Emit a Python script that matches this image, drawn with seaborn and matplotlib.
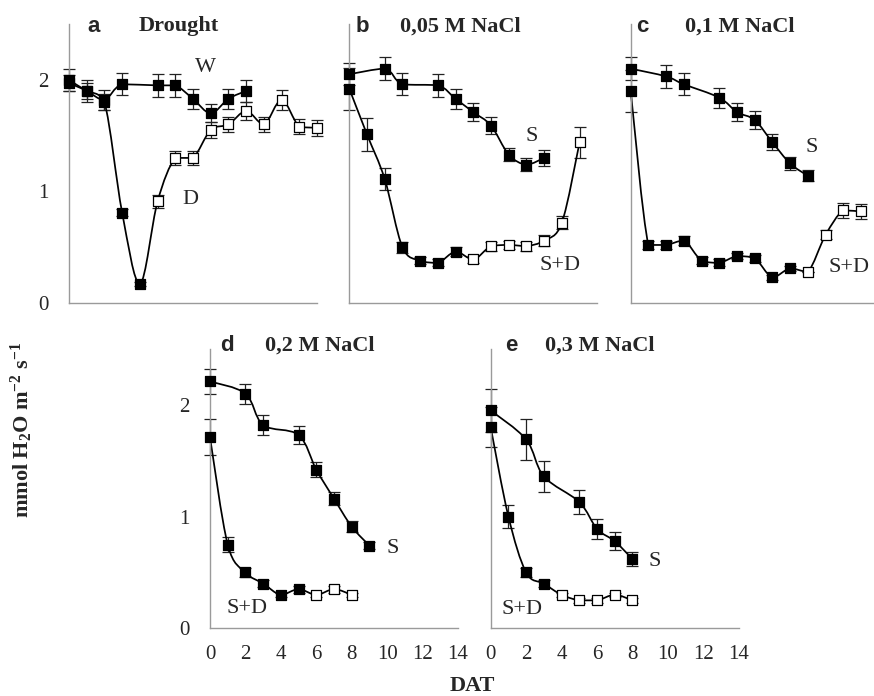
import numpy as np
import pandas as pd
import matplotlib
matplotlib.use("Agg")
import matplotlib.pyplot as plt
from matplotlib.path import Path
from matplotlib.patches import PathPatch
import seaborn as sns

# ---- data: transpiration (mmol H2O m-2 s-1) vs days after treatment ----
# a: drought
a_w_days = [0, 1, 2, 3, 5, 6, 7, 8, 9, 10]
a_w = [2.00, 1.90, 1.82, 1.96, 1.95, 1.95, 1.83, 1.70, 1.83, 1.90]
a_w_err = [0.10, 0.10, 0.09, 0.10, 0.10, 0.10, 0.09, 0.08, 0.09, 0.10]
a_d_days = list(range(15))
a_d = [1.97, 1.90, 1.80, 0.81, 0.17, 0.91, 1.30, 1.30, 1.55, 1.60, 1.72, 1.60, 1.82, 1.58, 1.57]
a_d_err = [0.07, 0.07, 0.07, 0.03, 0.02, 0.06, 0.06, 0.06, 0.07, 0.07, 0.08, 0.07, 0.09, 0.07, 0.07]
a_d_filled = 5

# b: 0,05 M NaCl
b_s_days = [0, 2, 3, 5, 6, 7, 8, 9, 10, 11]
b_s = [2.05, 2.10, 1.96, 1.95, 1.83, 1.71, 1.59, 1.33, 1.24, 1.30]
b_s_err = [0.10, 0.10, 0.10, 0.10, 0.09, 0.08, 0.08, 0.06, 0.06, 0.07]
b_sd_days = list(range(14))
b_sd = [1.92, 1.51, 1.11, 0.50, 0.38, 0.36, 0.46, 0.39, 0.51, 0.52, 0.51, 0.56, 0.72, 1.44]
b_sd_err = [0.19, 0.15, 0.10, 0.05, 0.03, 0.03, 0.04, 0.03, 0.04, 0.04, 0.04, 0.05, 0.06, 0.14]
b_sd_filled = 7

# c: 0,1 M NaCl
c_s_days = [0, 2, 3, 5, 6, 7, 8, 9, 10]
c_s = [2.10, 2.03, 1.96, 1.84, 1.71, 1.64, 1.44, 1.25, 1.14]
c_s_err = [0.10, 0.10, 0.10, 0.09, 0.08, 0.08, 0.07, 0.06, 0.05]
c_sd_days = list(range(14))
c_sd = [1.90, 0.52, 0.52, 0.56, 0.38, 0.36, 0.42, 0.40, 0.23, 0.31, 0.28, 0.61, 0.83, 0.82]
c_sd_err = [0.19, 0.04, 0.04, 0.04, 0.03, 0.03, 0.03, 0.03, 0.02, 0.02, 0.00, 0.04, 0.07, 0.07]
c_sd_filled = 10

# d: 0,2 M NaCl
d_s_days = [0, 2, 3, 5, 6, 7, 8, 9]
d_s = [2.21, 2.10, 1.82, 1.73, 1.42, 1.16, 0.91, 0.74]
d_s_err = [0.11, 0.09, 0.09, 0.08, 0.07, 0.06, 0.05, 0.03]
d_sd_days = list(range(9))
d_sd = [1.71, 0.75, 0.50, 0.40, 0.30, 0.35, 0.30, 0.35, 0.30]
d_sd_err = [0.16, 0.07, 0.04, 0.03, 0.02, 0.03, 0.02, 0.03, 0.02]
d_sd_filled = 6

# e: 0,3 M NaCl
e_s_days = [0, 2, 3, 5, 6, 7, 8]
e_s = [1.95, 1.69, 1.36, 1.13, 0.89, 0.78, 0.62]
e_s_err = [0.19, 0.18, 0.14, 0.11, 0.09, 0.08, 0.06]
e_sd_days = list(range(9))
e_sd = [1.80, 1.00, 0.50, 0.40, 0.30, 0.25, 0.25, 0.30, 0.25]
e_sd_err = [0.18, 0.10, 0.04, 0.03, 0.02, 0.02, 0.02, 0.02, 0.02]
e_sd_filled = 4

x_ticks = list(range(0, 15, 2))
y_ticks = [0, 0.5, 1, 1.5, 2, 2.5]
y_ticklabels = ["0", "", "1", "", "2", ""]

# ---- style ----
sns.set_style("white")
plt.rcParams["font.family"] = ["Liberation Serif", "DejaVu Serif"]
plt.rcParams["mathtext.fontset"] = "custom"
plt.rcParams["mathtext.rm"] = "Liberation Serif"
plt.rcParams["mathtext.bf"] = "Liberation Serif:bold"
plt.rcParams["mathtext.it"] = "Liberation Serif:italic"

AX_GRAY = "#9a9a9a"
W, H = 874, 696
fig = plt.figure(figsize=(W / 100, H / 100), dpi=100)


def add_axes_px(x0, x1, ytop, ybot):
    return fig.add_axes([x0 / W, (H - ybot) / H, (x1 - x0) / W, (ybot - ytop) / H])


def smooth_curve(ax, xs, ys):
    """Smoothed connecting line: cubic Bezier segments through the points,
    with control heights kept inside each segment to avoid overshoot."""
    pts = np.column_stack([xs, ys]).astype(float)
    verts = [pts[0]]
    codes = [Path.MOVETO]
    n = len(pts)
    for i in range(n - 1):
        p0 = pts[i - 1] if i > 0 else pts[i]
        p1, p2 = pts[i], pts[i + 1]
        p3 = pts[i + 2] if i + 2 < n else pts[i + 1]
        c1 = p1 + (p2 - p0) / 6.0
        c2 = p2 - (p3 - p1) / 6.0
        lo, hi = min(p1[1], p2[1]), max(p1[1], p2[1])
        c1[1] = np.clip(c1[1], lo, hi)
        c2[1] = np.clip(c2[1], lo, hi)
        verts += [c1, c2, p2]
        codes += [Path.CURVE4] * 3
    ax.add_patch(PathPatch(Path(verts, codes), facecolor="none",
                           edgecolor="black", lw=1.25, zorder=2))


def series(ax, days, vals, errs, n_filled):
    ax.errorbar(days, vals, yerr=errs, fmt="none", ecolor="#222222",
                elinewidth=0.9, capsize=4, capthick=0.9, zorder=1)
    smooth_curve(ax, days, vals)
    df = pd.DataFrame({"day": days, "val": vals})
    df["kind"] = ["filled" if i < n_filled else "open" for i in range(len(df))]
    for kind, face in (("filled", "black"), ("open", "white")):
        sub = df[df["kind"] == kind]
        if len(sub):
            sns.scatterplot(data=sub, x="day", y="val", ax=ax, marker="s",
                            s=42, color=face, edgecolor="black",
                            linewidth=0.9, zorder=3, legend=False)


def style_axes(ax, ylabels, xlabels):
    ax.set_xlim(0, 14)
    ax.set_ylim(0, 2.5)
    ax.set_xticks(x_ticks)
    ax.set_yticks(y_ticks)
    ax.set_yticklabels(y_ticklabels if ylabels else [""] * len(y_ticks))
    if not xlabels:
        ax.set_xticklabels([""] * len(x_ticks))
    for s in ("top", "right"):
        ax.spines[s].set_visible(False)
    for s in ("left", "bottom"):
        ax.spines[s].set_color(AX_GRAY)
        ax.spines[s].set_linewidth(1.0)
        ax.spines[s].set_clip_on(False)
    ax.tick_params(axis="both", direction="out", length=5, width=1.0,
                   color=AX_GRAY, labelsize=15)
    ax.tick_params(axis="x", pad=7)
    ax.tick_params(axis="y", pad=10)
    ax.set_xlabel("")
    ax.set_ylabel("")
    ax.patch.set_alpha(0)
    for c in ax.collections:
        c.set_clip_on(False)
    for p in ax.patches:
        p.set_clip_on(False)
    for l in ax.lines:
        l.set_clip_on(False)


def label(ax, letter, lx, title, tx, ty):
    ax.text(lx, ty, letter, ha="center", va="center", fontsize=16,
            fontweight="bold", family=["Liberation Sans", "DejaVu Sans"])
    ax.text(tx, ty, title, ha="center", va="center", fontsize=16,
            fontweight="bold")


def note(ax, x, y, s):
    ax.text(x, y, s, ha="center", va="center", fontsize=16)


# ---- panels ----
ax_a = add_axes_px(69, 317, 24, 303)
series(ax_a, a_w_days, a_w, a_w_err, len(a_w))
series(ax_a, a_d_days, a_d, a_d_err, a_d_filled)
style_axes(ax_a, True, False)
label(ax_a, "a", 1.36, "Drought", 6.2, 2.48)
note(ax_a, 7.7, 2.11, "W")
note(ax_a, 6.85, 0.93, "D")

ax_b = add_axes_px(349.3, 597.3, 24, 303)
series(ax_b, b_s_days, b_s, b_s_err, len(b_s))
series(ax_b, b_sd_days, b_sd, b_sd_err, b_sd_filled)
style_axes(ax_b, False, False)
label(ax_b, "b", 0.76, "0,05 M NaCl", 6.29, 2.48)
note(ax_b, 10.3, 1.49, "S")
note(ax_b, 11.87, 0.34, "S+D")

ax_c = add_axes_px(630.7, 878.7, 24, 303)
series(ax_c, c_s_days, c_s, c_s_err, len(c_s))
series(ax_c, c_sd_days, c_sd, c_sd_err, c_sd_filled)
style_axes(ax_c, False, False)
label(ax_c, "c", 0.68, "0,1 M NaCl", 6.17, 2.48)
note(ax_c, 10.22, 1.39, "S")
note(ax_c, 12.34, 0.32, "S+D")

ax_d = add_axes_px(210, 458, 349, 628.3)
series(ax_d, d_s_days, d_s, d_s_err, len(d_s))
series(ax_d, d_sd_days, d_sd, d_sd_err, d_sd_filled)
style_axes(ax_d, True, True)
label(ax_d, "d", 0.98, "0,2 M NaCl", 6.17, 2.53)
note(ax_d, 10.3, 0.71, "S")
note(ax_d, 2.07, 0.18, "S+D")

ax_e = add_axes_px(490.7, 738.7, 349, 628.3)
series(ax_e, e_s_days, e_s, e_s_err, len(e_s))
series(ax_e, e_sd_days, e_sd, e_sd_err, e_sd_filled)
style_axes(ax_e, False, True)
label(ax_e, "e", 1.19, "0,3 M NaCl", 6.13, 2.53)
note(ax_e, 9.28, 0.60, "S")
note(ax_e, 1.75, 0.17, "S+D")

fig.text(22 / W, 1 - 430 / H, r"$\mathbf{mmol\ H_2O\ m^{-2}\ s^{-1}}$",
         rotation=90, ha="center", va="center", fontsize=16)
fig.text(472 / W, 1 - 686 / H, "DAT", ha="center", va="center",
         fontsize=16, fontweight="bold")

fig.savefig("out.png", dpi=100)
